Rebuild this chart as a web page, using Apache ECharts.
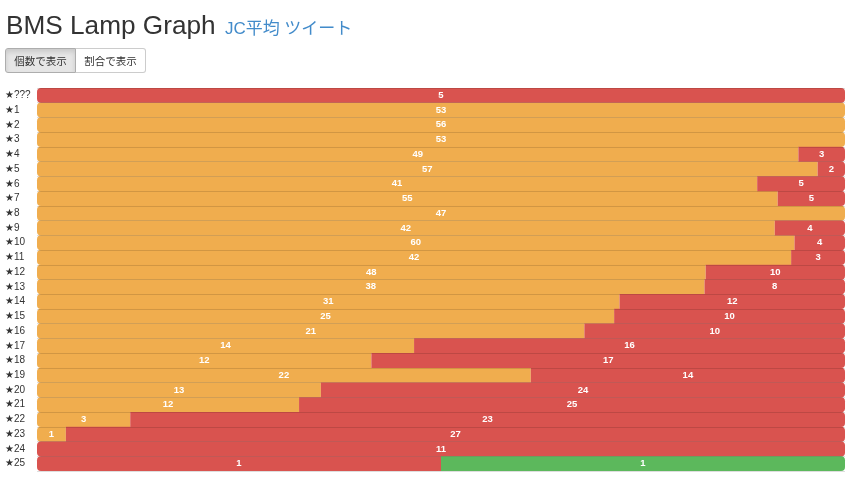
<!DOCTYPE html>
<html>
<head>
<meta charset="utf-8">
<script src="https://cdn.jsdelivr.net/npm/echarts@6/dist/echarts.min.js"></script>
<style>
html,body{margin:0;padding:0;background:#fff;width:850px;height:483px;overflow:hidden;font-family:"Liberation Sans",Arial,"Noto Sans CJK JP",sans-serif;}
#title{position:absolute;left:6px;top:8px;font-size:26.2px;color:#333;white-space:nowrap;line-height:34px;}
#title small{font-size:17px;color:#428bca;margin-left:2px;}
#btns{position:absolute;left:5px;top:48px;height:25px;display:flex;}
.btn{box-sizing:border-box;height:25px;font-size:10.5px;color:#333;border:1px solid #ccc;line-height:23px;padding:0;text-align:center;white-space:nowrap;background:#fff;font-family:"Noto Sans CJK JP",sans-serif;}
.b1{background:#e6e6e6;border-color:#adadad;border-radius:3px 0 0 3px;box-shadow:inset 0 3px 5px rgba(0,0,0,.125);width:71px;}
.b2{border-left:none;border-radius:0 3px 3px 0;width:70px;}
#chart{position:absolute;left:0;top:0;width:850px;height:483px;}
</style>
</head>
<body>
<div id="chart"></div>
<div id="title">BMS Lamp Graph <small>JC平均 ツイート</small></div>
<div id="btns"><div class="btn b1">個数で表示</div><div class="btn b2">割合で表示</div></div>
<script>
var categories = ['★???','★1','★2','★3','★4','★5','★6','★7','★8','★9','★10','★11','★12','★13','★14','★15','★16','★17','★18','★19','★20','★21','★22','★23','★24','★25'];
var clearCounts  = [0,53,56,53,49,57,41,55,47,42,60,42,48,38,31,25,21,14,12,22,13,12,3,1,0,0];
var failedCounts = [5,0,0,0,3,2,5,5,0,4,4,3,10,8,12,10,10,16,17,14,24,25,23,27,11,1];
var hardCounts   = [0,0,0,0,0,0,0,0,0,0,0,0,0,0,0,0,0,0,0,0,0,0,0,0,0,1];
var seriesCounts = [clearCounts, failedCounts, hardCounts];
var seriesColors = ['#f0ad4e', '#d9534f', '#5cb85c'];

var R = 4;
var series = seriesCounts.map(function (arr, si) {
  return {
    type: 'bar',
    stack: 'lamp',
    barWidth: 15,
    color: seriesColors[si],
    label: {
      show: true, position: 'inside', color: '#fff', fontSize: 9.5, fontWeight: 'bold',
      fontFamily: 'Liberation Sans, Arial, sans-serif',
      formatter: function (p) { return p.data.count; }
    },
    data: arr.map(function (v, i) {
      if (!v) return { value: 0, count: '', label: { show: false } };
      var total = 0; seriesCounts.forEach(function (a) { total += a[i]; });
      var first = -1, last = -1;
      seriesCounts.forEach(function (a, k) { if (a[i]) { if (first < 0) first = k; last = k; } });
      var l = first === si ? R : 0, r = last === si ? R : 0;
      return { value: v / total * 100, count: v, itemStyle: { borderRadius: [l, r, r, l] } };
    })
  };
});

var chart = echarts.init(document.getElementById('chart'));
chart.setOption({
  animation: false,
  grid: { left: 37, right: 5, top: 88, bottom: 12 },
  xAxis: { type: 'value', min: 0, max: 100, show: false },
  yAxis: {
    type: 'category', data: categories, inverse: true, z: 10,
    axisLine: { show: false }, axisTick: { show: false },
    splitLine: { show: true, lineStyle: { color: 'rgba(0,0,0,0.13)', width: 1 } },
    axisLabel: { align: 'left', margin: 32, color: '#333', fontSize: 10, fontFamily: 'Liberation Sans, Arial, sans-serif' }
  },
  series: series
});
</script>
</body>
</html>
